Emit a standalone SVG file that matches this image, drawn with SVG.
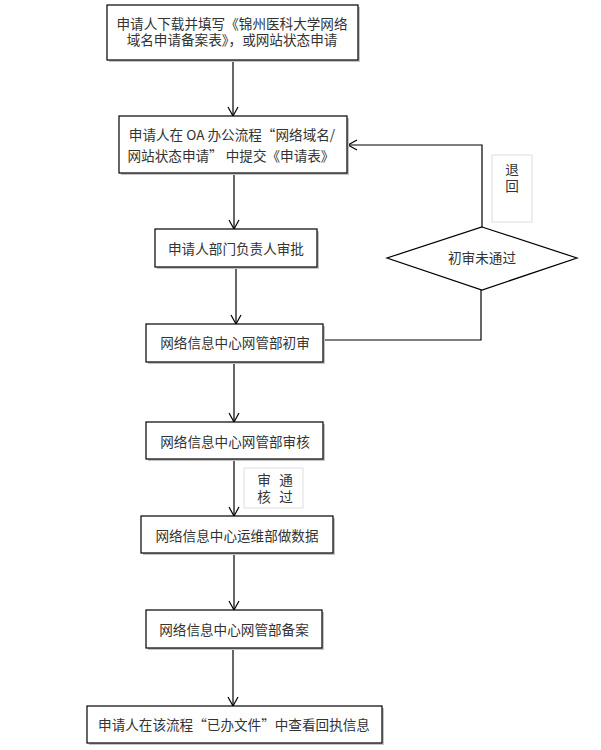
<svg xmlns="http://www.w3.org/2000/svg" width="601" height="750" viewBox="0 0 601 750">
<defs>
<marker id="arr" markerWidth="12" markerHeight="12" refX="10" refY="6" orient="auto" markerUnits="userSpaceOnUse">
<polyline points="1,1 10,6 1,11" fill="none" stroke="#000" stroke-width="1.2"/>
</marker>
</defs>
<style>
.box{fill:#fff;stroke:#000;stroke-width:1.2}
.sh{fill:#c4c4c4}
.t{font-family:"Noto Sans CJK SC","Liberation Sans",sans-serif;font-size:13.6px;fill:#333;text-anchor:middle}
.c{fill:none;stroke:#000;stroke-width:1.2}
.lbl{fill:#fff;stroke:#ddd;stroke-width:1}
</style>
<rect width="601" height="750" fill="#fff"/>
<g id="connectors">
<line class="c" x1="233" y1="60" x2="233" y2="116" marker-end="url(#arr)"/>
<line class="c" x1="234" y1="173" x2="234" y2="229" marker-end="url(#arr)"/>
<line class="c" x1="236" y1="267" x2="236" y2="324" marker-end="url(#arr)"/>
<polyline class="c" points="323,340 481,340 481,290"/>
<polyline class="c" points="482,227 482,145 348,145" stroke="#777" marker-end="url(#arr)"/>
<line class="c" x1="234" y1="362" x2="234" y2="422" marker-end="url(#arr)"/>
<line class="c" x1="234" y1="459" x2="234" y2="516" marker-end="url(#arr)"/>
<line class="c" x1="234" y1="553" x2="234" y2="610" marker-end="url(#arr)"/>
<line class="c" x1="233" y1="648" x2="233" y2="706" marker-end="url(#arr)"/>
</g>
<g id="label-tuihui">
<rect class="lbl" x="492" y="155" width="40" height="67"/>
<text class="t" x="512" y="175">退<tspan x="512" dy="16">回</tspan></text>
</g>
<g id="label-shenhe">
<rect class="lbl" x="244" y="468" width="59" height="40"/>
<text class="t" y="485"><tspan x="264">审</tspan><tspan x="286">通</tspan><tspan x="264" dy="17">核</tspan><tspan x="286">过</tspan></text>
</g>
<g id="n1">
<rect class="sh" x="109" y="7" width="251" height="55"/>
<rect class="box" x="107" y="5" width="251" height="55"/>
<text class="t" x="232" y="29">申请人下载并填写《锦州医科大学网络<tspan x="232" dy="16">域名申请备案表》，或网站状态申请</tspan></text>
</g>
<g id="n2">
<rect class="sh" x="121" y="118" width="228" height="57"/>
<rect class="box" x="119" y="116" width="228" height="57"/>
<text class="t" x="232" y="140">申请人在 OA 办公流程“网络域名/<tspan x="231" dy="21">网站状态申请” 中提交《申请表》</tspan></text>
</g>
<g id="n3">
<rect class="sh" x="157" y="231" width="162" height="38"/>
<rect class="box" x="155" y="229" width="162" height="38"/>
<text class="t" x="236" y="254">申请人部门负责人审批</text>
</g>
<g id="n4">
<rect class="sh" x="148" y="326" width="177" height="38"/>
<rect class="box" x="146" y="324" width="177" height="38"/>
<text class="t" x="235" y="348">网络信息中心网管部初审</text>
</g>
<g id="decision">
<polygon class="box" points="482,227 577,258 482,290 387,258"/>
<text class="t" x="482" y="263">初审未通过</text>
</g>
<g id="n5">
<rect class="sh" x="148" y="424" width="177" height="37"/>
<rect class="box" x="146" y="422" width="177" height="37"/>
<text class="t" x="235" y="447">网络信息中心网管部审核</text>
</g>
<g id="n6">
<rect class="sh" x="143" y="518" width="192" height="37"/>
<rect class="box" x="141" y="516" width="192" height="37"/>
<text class="t" x="237" y="541">网络信息中心运维部做数据</text>
</g>
<g id="n7">
<rect class="sh" x="148" y="612" width="176" height="38"/>
<rect class="box" x="146" y="610" width="176" height="38"/>
<text class="t" x="234" y="635">网络信息中心网管部备案</text>
</g>
<g id="n8">
<rect class="sh" x="89" y="708" width="295" height="37"/>
<rect class="box" x="87" y="706" width="295" height="37"/>
<text class="t" x="234" y="730">申请人在该流程“已办文件”中查看回执信息</text>
</g>
</svg>
